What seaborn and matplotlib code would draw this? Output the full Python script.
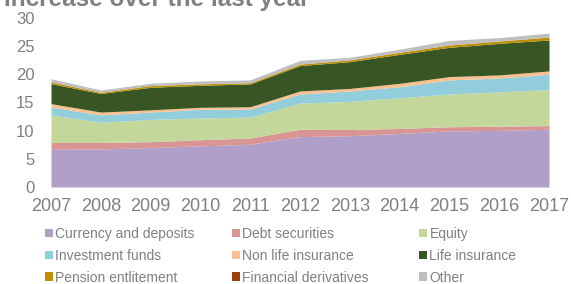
import numpy as np
import matplotlib
matplotlib.use("Agg")
import matplotlib.pyplot as plt
import seaborn as sns
from matplotlib.patches import Patch

sns.set_theme(style="white")
plt.rcParams['font.family'] = ['Liberation Sans', 'DejaVu Sans']

years = [2007, 2008, 2009, 2010, 2011, 2012, 2013, 2014, 2015, 2016, 2017]

# stacked components
currency = [6.7, 6.75, 7.0, 7.3, 7.6, 8.95, 9.1, 9.5, 9.95, 10.05, 10.25]
debt = [1.2, 1.15, 1.05, 1.1, 1.1, 1.3, 1.1, 0.9, 0.75, 0.75, 0.65]
equity = [4.9, 3.6, 3.95, 3.85, 3.7, 4.65, 5.0, 5.45, 5.8, 6.1, 6.4]
inv_funds = [1.4, 1.3, 1.3, 1.55, 1.45, 1.6, 1.85, 1.95, 2.5, 2.45, 2.7]
non_life = [0.6, 0.5, 0.4, 0.35, 0.4, 0.55, 0.45, 0.6, 0.6, 0.55, 0.6]
life = [3.55, 3.3, 4.0, 3.9, 4.05, 4.5, 4.75, 5.15, 5.2, 5.6, 5.5]
pension = [0.3, 0.2, 0.3, 0.25, 0.2, 0.25, 0.3, 0.35, 0.4, 0.4, 0.5]
derivatives = [0.02, 0.02, 0.02, 0.02, 0.02, 0.02, 0.02, 0.02, 0.02, 0.02, 0.02]
other = [0.55, 0.4, 0.4, 0.5, 0.5, 0.65, 0.45, 0.55, 0.8, 0.6, 0.7]

labels = ["Currency and deposits", "Debt securities", "Equity",
          "Investment funds", "Non life insurance", "Life insurance",
          "Pension entlitement", "Financial derivatives", "Other"]
colors = ["#b09fc9", "#d99594", "#c4d79b", "#92cddc", "#fac090",
          "#375623", "#bf9000", "#9c4010", "#bfbfbf"]

series = [currency, debt, equity, inv_funds, non_life, life, pension, derivatives, other]

fig = plt.figure(figsize=(5.71, 2.84), dpi=100)
ax = fig.add_axes([51 / 571, 1 - 187 / 284, 498 / 571, 169 / 284])

ax.stackplot(years, *series, colors=colors, linewidth=0)

grey = "#808080"
ax.set_xlim(2007, 2017)
ax.set_ylim(0, 30)
ax.set_xticks(years)
ax.set_yticks(range(0, 31, 5))
ax.tick_params(axis='x', labelsize=13, colors=grey, length=0, pad=8)
ax.tick_params(axis='y', labelsize=12, colors=grey, length=0, pad=12)
sns.despine(ax=ax, left=True, bottom=True)
ax.grid(False)

# title, cut off at the top like the original
fig.text(0.007, 1 - 6 / 284, "Increase over the last year", fontsize=17.5,
         fontweight='bold', color=grey, va='baseline', ha='left')

# legend: three columns laid out row by row
col_x = [45 / 571, 232 / 571, 419 / 571]
for c in range(3):
    idx = [c, c + 3, c + 6]
    handles = [Patch(facecolor=colors[i], edgecolor='none') for i in idx]
    leg = fig.legend(handles, [labels[i] for i in idx], loc='upper left',
                     bbox_to_anchor=(col_x[c], 1 - 227 / 284), frameon=False,
                     fontsize=10, borderpad=0, borderaxespad=0,
                     handlelength=0.55, handleheight=0.55, handletextpad=0.2,
                     labelspacing=0.56)
    for t in leg.get_texts():
        t.set_color(grey)

fig.savefig("out.png", dpi=100)
